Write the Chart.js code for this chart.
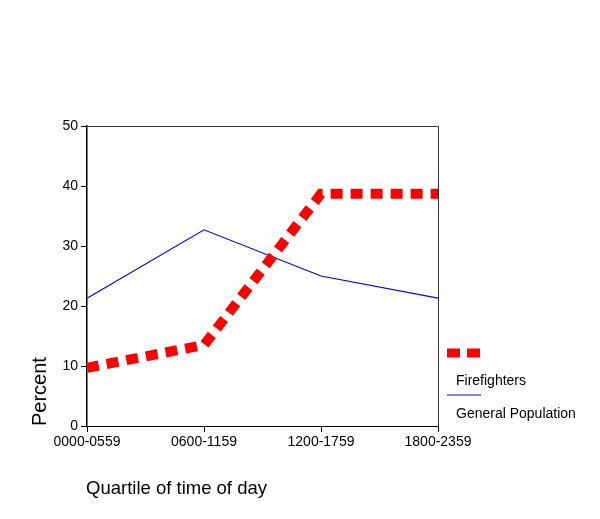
<!DOCTYPE html>
<html>
<head>
<meta charset="utf-8">
<script src="https://cdn.jsdelivr.net/npm/chart.js@4"></script>
<style>
  html, body { margin: 0; padding: 0; background: #fff; }
  #wrap { width: 600px; height: 519px; position: relative; }
</style>
</head>
<body>
<div id="wrap"><canvas id="lineChart"></canvas></div>
<script>
const categories = ['0000-0559', '0600-1159', '1200-1759', '1800-2359'];
const firefighters = [9.7, 13.5, 38.7, 38.7];
const generalPopulation = [21.3, 32.7, 25.0, 21.3];
const yTicks = [0, 10, 20, 30, 40, 50];
const seriesNames = ['Firefighters', 'General Population'];

const FONT = "'Liberation Sans', Arial, sans-serif";

// titles, box and the odd legend of the original
const extras = {
    id: 'extras',
    afterDraw(chart) {
        const ctx = chart.ctx;
        const a = chart.chartArea;
        ctx.save();
        ctx.strokeStyle = '#333';
        ctx.lineWidth = 1;
        ctx.beginPath();
        ctx.moveTo(a.left, a.top + 0.5);
        ctx.lineTo(a.right + 0.5, a.top + 0.5);
        ctx.lineTo(a.right + 0.5, a.bottom);
        ctx.stroke();

        ctx.fillStyle = '#000';
        ctx.font = '18.5px ' + FONT;
        ctx.textBaseline = 'middle';
        ctx.textAlign = 'left';
        ctx.fillText('Quartile of time of day', 86, 489);

        ctx.save();
        ctx.translate(40, 426);
        ctx.rotate(-Math.PI / 2);
        ctx.font = '20px ' + FONT;
        ctx.fillText('Percent', 0, 0);
        ctx.restore();

        // legend
        ctx.strokeStyle = '#ff0000';
        ctx.lineWidth = 9;
        ctx.setLineDash([13, 7]);
        ctx.beginPath();
        ctx.moveTo(447, 353);
        ctx.lineTo(481, 353);
        ctx.stroke();
        ctx.setLineDash([]);

        ctx.strokeStyle = '#0000ee';
        ctx.lineWidth = 1.2;
        ctx.beginPath();
        ctx.moveTo(447, 395);
        ctx.lineTo(481, 395);
        ctx.stroke();

        ctx.font = '14px ' + FONT;
        ctx.fillText(seriesNames[0], 456, 381);
        ctx.fillText(seriesNames[1], 456, 414);
        ctx.restore();
    }
};

new Chart(document.getElementById('lineChart'), {
    type: 'line',
    data: {
        labels: categories,
        datasets: [{
            label: seriesNames[0],
            data: firefighters,
            borderColor: '#ff0000',
            borderWidth: 10,
            borderDash: [12, 8],
            borderCapStyle: 'butt',
            pointRadius: 0,
            tension: 0,
            fill: false
        }, {
            label: seriesNames[1],
            data: generalPopulation,
            borderColor: '#0000ee',
            borderWidth: 1.2,
            pointRadius: 0,
            tension: 0,
            fill: false
        }]
    },
    options: {
        responsive: true,
        maintainAspectRatio: false,
        animation: false,
        layout: { padding: { top: 126, right: 162, left: 0, bottom: 0 } },
        plugins: {
            legend: { display: false },
            tooltip: { enabled: false }
        },
        scales: {
            x: {
                offset: false,
                grid: { drawOnChartArea: false, drawTicks: true, tickLength: 6, color: '#000' },
                border: { color: '#000', width: 1 },
                ticks: { color: '#000', font: { family: FONT, size: 14 }, padding: 2, maxRotation: 0 },
                afterFit: (scale) => { scale.height = 519 - 426; }
            },
            y: {
                min: 0,
                max: 50,
                afterBuildTicks: (scale) => { scale.ticks = yTicks.map(v => ({ value: v })); },
                grid: { drawOnChartArea: false, drawTicks: true, tickLength: 6, color: '#000' },
                border: { color: '#000', width: 1.5 },
                ticks: { color: '#000', font: { family: FONT, size: 14 }, padding: 3 },
                afterFit: (scale) => { scale.width = 87; }
            }
        }
    },
    plugins: [extras]
});
</script>
</body>
</html>
